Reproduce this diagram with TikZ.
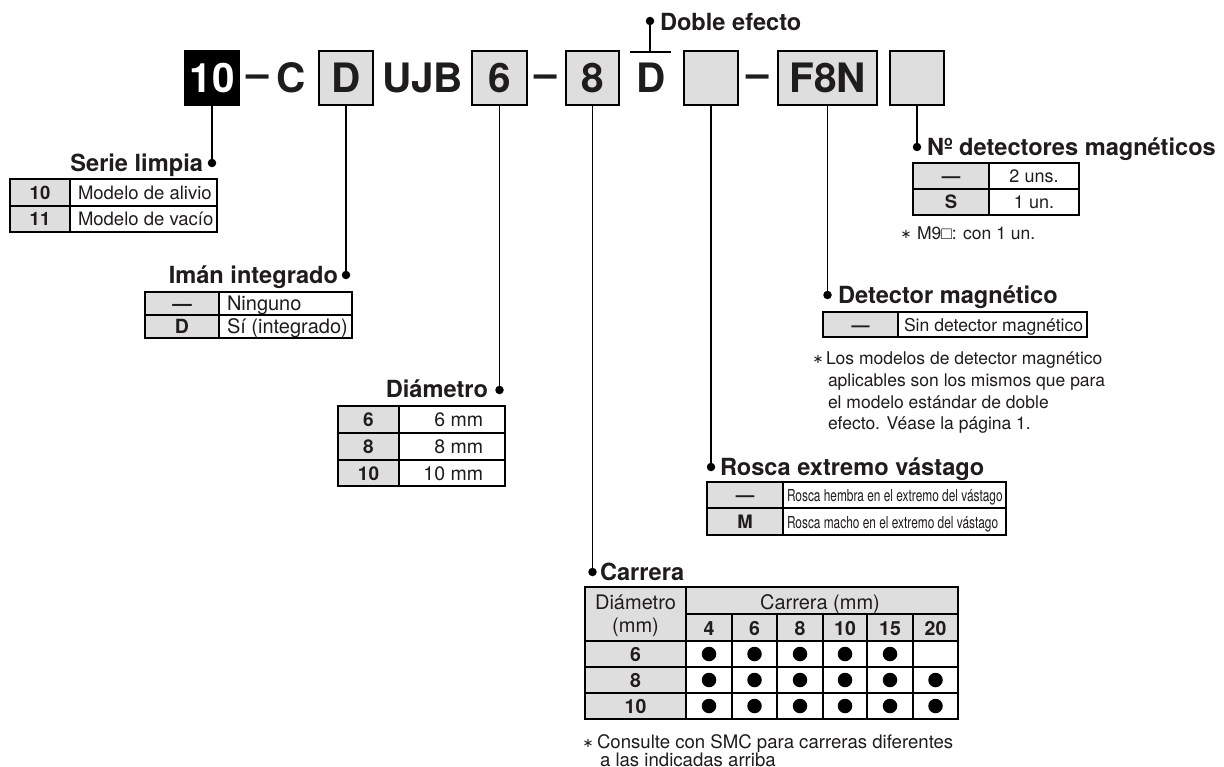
\documentclass[tikz,border=0pt]{standalone}
\usepackage{fontspec}
\setmainfont{TeX Gyre Heros}
\newfontfamily\symfont{Liberation Sans}
\newfontfamily\djfont{DejaVu Sans}
\newfontfamily\narrowfont[FakeStretch=0.72]{TeX Gyre Heros}
\definecolor{graybg}{RGB}{222,222,222}
\definecolor{ink}{RGB}{30,28,28}
\tikzset{
 every node/.style={inner sep=0pt, outer sep=0pt, text=ink},
 codetxt/.style={font=\fontsize{40.5bp}{44bp}\selectfont\bfseries, anchor=base},
 codebox/.style={draw=black, line width=1.6bp, fill=graybg, minimum width=54bp, minimum height=54bp, font=\fontsize{40.5bp}{44bp}\selectfont\bfseries},
 ttl/.style={font=\fontsize{23.6bp}{26bp}\selectfont\bfseries},
 cellr/.style={font=\fontsize{#1}{#1}\selectfont, anchor=base west},
 cellc/.style={font=\fontsize{#1}{#1}\selectfont, anchor=base},
 cellb/.style={font=\fontsize{#1}{#1}\selectfont\bfseries, anchor=base},
 cellnar/.style={font=\fontsize{16.5bp}{20bp}\narrowfont, anchor=base west},
 note/.style={font=\fontsize{#1}{#1}\selectfont, anchor=base west},
 star/.style={font=\fontsize{13bp}{13bp}\djfont, anchor=base},
 bulletdot/.style={circle, fill=black, draw=none, minimum size=14.5bp},
 conn/.style={line width=1.7bp, draw=black},
 dotnode/.style={circle, fill=black, minimum size=8.5bp},
 tab/.style={line width=1.2bp, draw=black},
}
\begin{document}
\begin{tikzpicture}[x=1bp,y=-1bp]
\useasboundingbox (0,0) rectangle (1224,767);
\fill[white] (0,0) rectangle (1224,767);

% ---------- code row ----------
\node[codebox, fill=black, text=white] (b10) at (212,78) {10};
\node[codetxt] (m1) at (258,88) {–};
\node[codetxt] (tC) at (291,93) {C};
\node[codebox] (bD) at (346,78) {D};
\node[codetxt] (tUJB) at (422.5,93) {UJB};
\node[codebox, minimum width=55bp] (b6) at (499.5,78) {6};
\node[codetxt] (m2) at (546,88) {–};
\node[codebox, minimum width=53bp] (b8) at (592.5,78) {8};
\node[codetxt] (tD2) at (651,93) {D};
\node[codebox] (bE1) at (711,78) {};
\node[codetxt] (m3) at (758,88) {–};
\node[codebox, minimum width=99bp] (bF) at (827.5,78) {F8N};
\node[codebox] (bE2) at (917,78) {};

% Doble efecto
\coordinate (obL) at (630,52);
\coordinate (obR) at (671,52);
\coordinate (obM) at (650,52);
\draw[conn] (obL) -- (obR);
\node[dotnode] (dDE) at (650,21) {};
\draw[conn] (obM) -- (dDE.center);
\node[ttl, anchor=base west] (tDE) at (660,31) {Doble efecto};

% ---------- dots and connectors ----------
\node[dotnode] (dSL) at (212,163) {};
\node[dotnode] (dIM) at (346,275) {};
\node[dotnode] (dDI) at (499.5,390) {};
\node[dotnode] (dCA) at (592.5,572) {};
\node[dotnode] (dRO) at (711,467) {};
\node[dotnode] (dDM) at (827.5,295) {};
\node[dotnode] (dNo) at (917,147) {};
\draw[conn] (b10.south) -- (dSL.center);
\draw[conn] (bD.south) -- (dIM.center);
\draw[conn] (b6.south) -- (dDI.center);
\draw[conn] (b8.south) -- (dCA.center);
\draw[conn] (bE1.south) -- (dRO.center);
\draw[conn] (bF.south) -- (dDM.center);
\draw[conn] (bE2.south) -- (dNo.center);

% ---------- titles ----------
\node[ttl, anchor=base east] (tSL) at (203,171) {Serie limpia};
\node[ttl, anchor=base east] (tIM) at (338,283) {Imán integrado};
\node[ttl, anchor=base east] (tDI) at (488,397) {Diámetro};
\node[ttl, anchor=base west] (tCA) at (600,580) {Carrera};
\node[ttl, anchor=base west] (tRO) at (720,475) {Rosca extremo vástago};
\node[ttl, anchor=base west] (tDM) at (838,303) {Detector magnético};
\node[ttl, anchor=base west] (tNo) at (927,155) {Nº detectores magnéticos};

% ---------- Serie limpia table ----------
\fill[graybg] (10,179) rectangle (70,232);
\draw[tab] (10,179) rectangle (217,232);
\draw[tab] (70,179) -- (70,232);
\draw[tab] (10,206) -- (217,206);
\node[cellb=18.5bp] (sl1) at (40,199) {10};
\node[cellr=18.5bp] (sl2) at (78,199) {Modelo de alivio};
\node[cellb=18.5bp] (sl3) at (40,225.5) {11};
\node[cellr=18.5bp] (sl4) at (78,225.5) {Modelo de vacío};

% ---------- Imán integrado table ----------
\fill[graybg] (145,292) rectangle (219,338);
\draw[tab] (145,292) rectangle (352,338);
\draw[tab] (219,292) -- (219,338);
\draw[tab] (145,315) -- (352,315);
\node[cellb=19.5bp] (im1) at (182,310.5) {—};
\node[cellr=20bp] (im2) at (227,310.5) {Ninguno};
\node[cellb=19.5bp] (im3) at (182,333.5) {D};
\node[cellr=20bp] (im4) at (227,333.5) {Sí (integrado)};

% ---------- Diámetro table ----------
\fill[graybg] (338,406) rectangle (399,486);
\draw[tab] (338,406) rectangle (505,486);
\draw[tab] (399,406) -- (399,486);
\draw[tab] (338,433) -- (505,433);
\draw[tab] (338,460) -- (505,460);
\node[cellb=19bp] (di1) at (368.5,426.5) {6};
\node[cellc=19.5bp, anchor=base east] (di2) at (483,426.5) {6 mm};
\node[cellb=19bp] (di3) at (368.5,453.5) {8};
\node[cellc=19.5bp, anchor=base east] (di4) at (483,453.5) {8 mm};
\node[cellb=19bp] (di5) at (368.5,480) {10};
\node[cellc=19.5bp, anchor=base east] (di6) at (483,480) {10 mm};

% ---------- Nº detectores table ----------
\fill[graybg] (913,163) rectangle (989,215);
\draw[tab] (913,163) rectangle (1079,215);
\draw[tab] (989,163) -- (989,215);
\draw[tab] (913,189) -- (1079,189);
\node[cellb=18.5bp] (nd1) at (951,182.5) {—};
\node[cellc=18bp] (nd2) at (1034,182.5) {2 uns.};
\node[cellb=18.5bp] (nd3) at (951,208.5) {S};
\node[cellc=18bp] (nd4) at (1034,208.5) {1 un.};
\node[star] (ndS) at (906,238) {∗};
\node[note=17.5bp] (ndN) at (917,239) {M9{\symfont □}: con 1 un.};

% ---------- Detector magnético table ----------
\fill[graybg] (823,312) rectangle (898,337);
\draw[tab] (823,312) rectangle (1087,337);
\draw[tab] (898,312) -- (898,337);
\node[cellb=18bp] (dm1) at (860.5,331) {—};
\node[cellr=17.6bp] (dm2) at (904,331) {Sin detector magnético};
\node[star] (dmS) at (818,363) {∗};
\node[note=17.5bp] (dmN1) at (826,364) {Los modelos de detector magnético};
\node[note=17.5bp] (dmN2) at (828,386) {aplicables son los mismos que para};
\node[note=17.5bp] (dmN3) at (828,408) {el modelo estándar de doble};
\node[note=17.5bp] (dmN4) at (828,429) {efecto. Véase la página 1.};

% ---------- Rosca table ----------
\fill[graybg] (707,482) rectangle (783,535);
\draw[tab] (707,482) rectangle (1006,535);
\draw[tab] (783,482) -- (783,535);
\draw[tab] (707,508) -- (1006,508);
\node[cellb=18.5bp] (ro1) at (745,501.5) {—};
\node[cellnar] (ro2) at (787,501.5) {Rosca hembra en el extremo del vástago};
\node[cellb=18.5bp] (ro3) at (745,528) {M};
\node[cellnar] (ro4) at (787,528) {Rosca macho en el extremo del vástago};

% ---------- Carrera table ----------
\fill[graybg] (585,587) rectangle (958,641);
\fill[graybg] (585,641) rectangle (686,719);
\draw[tab] (585,587) rectangle (958,719);
\draw[tab] (686,587) -- (686,719);
\draw[tab] (686,614) -- (958,614);
\draw[tab] (585,641) -- (958,641);
\draw[tab] (585,667) -- (958,667);
\draw[tab] (585,693) -- (958,693);
\foreach \xx in {732,777,823,867,913} { \draw[tab] (\xx,614) -- (\xx,719); }
\node[cellc=20bp] (ca1) at (635.5,609.5) {Diámetro};
\node[cellc=20bp] (ca2) at (635.5,632) {(mm)};
\node[cellc=20bp] (ca3) at (820,609.5) {Carrera (mm)};
\node[cellb=19.5bp] (cc1) at (709,635) {4};
\node[cellb=19.5bp] (cc2) at (754.5,635) {6};
\node[cellb=19.5bp] (cc3) at (800,635) {8};
\node[cellb=19.5bp] (cc4) at (845,635) {10};
\node[cellb=19.5bp] (cc5) at (890,635) {15};
\node[cellb=19.5bp] (cc6) at (935.5,635) {20};
\node[cellb=19.5bp] (cr1) at (635.5,661) {6};
\node[cellb=19.5bp] (cr2) at (635.5,687) {8};
\node[cellb=19.5bp] (cr3) at (635.5,713) {10};
\foreach \xx/\nm in {709/a,754.5/b,800/c,845/d,890/e} { \node[bulletdot] (p6\nm) at (\xx,654) {}; }
\foreach \xx/\nm in {709/a,754.5/b,800/c,845/d,890/e,935.5/f} { \node[bulletdot] (p8\nm) at (\xx,680) {}; \node[bulletdot] (p10\nm) at (\xx,706) {}; }
\node[star] (caS) at (588,747) {∗};
\node[note=18.6bp] (caN1) at (597,748) {Consulte con SMC para carreras diferentes};
\node[note=18.6bp] (caN2) at (600,766) {a las indicadas arriba};
\end{tikzpicture}
\end{document}
